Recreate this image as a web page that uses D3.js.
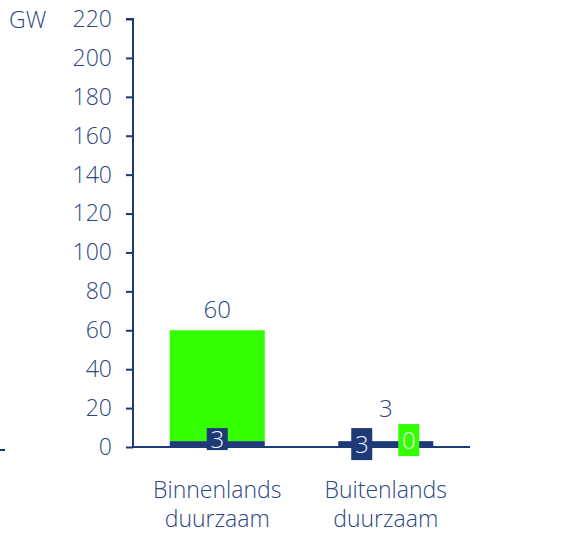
<!DOCTYPE html>
<html>
<head>
<meta charset="utf-8">
<script src="https://cdn.jsdelivr.net/npm/d3@7"></script>
<style>
  html, body { margin: 0; padding: 0; background: #fff; }
  svg text { font-family: "Open Sans", "Noto Sans", sans-serif; font-weight: 300; }
</style>
</head>
<body>
<svg id="chart" width="566" height="534"></svg>
<script>
// Installed capacity per category, GW
const categories = [["Binnenlands", "duurzaam"], ["Buitenlands", "duurzaam"]];
const baseValues = [3, 3];      // dark blue segment
const greenValues = [57, 0];    // green segment
const totals = [60, 3];
const yTicks = [0, 20, 40, 60, 80, 100, 120, 140, 160, 180, 200, 220];
// which segment labels are shown, and horizontal nudge for each
const baseLabelShift = [0, -24];
const greenLabelShow = [false, true];
const greenLabelShift = [0, 23];
const totalLift = [12, 24];

const navy = "#1d3977";
const green = "#33ff00";
const textCol = "#2c4882";

const svg = d3.select("#chart");
const x0 = 133, x1 = 470, yTop = 19, yBase = 447;

const y = d3.scaleLinear().domain([0, 220]).range([yBase, yTop]);
const x = d3.scaleBand().domain(d3.range(categories.length)).range([x0, x1])
  .paddingInner(0.436).paddingOuter(0.218);

// y axis
const yAxis = d3.axisLeft(y).tickValues(yTicks).tickSize(7).tickPadding(14);
const ga = svg.append("g").attr("transform", `translate(${x0},0)`).call(yAxis);
ga.select(".domain").attr("stroke", navy).attr("stroke-width", 2)
  .attr("d", `M-7,${yTop}H0V${yBase}`);
ga.selectAll(".tick line").attr("stroke", navy).attr("stroke-width", 2);
ga.selectAll(".tick text").attr("fill", textCol).attr("font-size", 23)
  .style("font-family", "'Open Sans', sans-serif").style("font-weight", 300);

// unit
svg.append("text").attr("x", 9).attr("y", yTop + 9).attr("fill", textCol)
  .attr("font-size", 23).text("GW");

// small mark at the far left
svg.append("line").attr("x1", 0).attr("x2", 5).attr("y1", 450).attr("y2", 450)
  .attr("stroke", navy).attr("stroke-width", 2);

// bars
const bars = svg.append("g");
categories.forEach((c, i) => {
  const bx = x(i), bw = x.bandwidth();
  bars.append("rect").attr("x", bx).attr("width", bw)
    .attr("y", y(baseValues[i] + greenValues[i])).attr("height", y(baseValues[i]) - y(baseValues[i] + greenValues[i]))
    .attr("fill", green);
  bars.append("rect").attr("x", bx).attr("width", bw)
    .attr("y", y(baseValues[i])).attr("height", yBase - y(baseValues[i]))
    .attr("fill", navy);
});

// baseline
svg.append("line").attr("x1", x0).attr("x2", x1).attr("y1", yBase).attr("y2", yBase)
  .attr("stroke", navy).attr("stroke-width", 2);

// segment labels in boxes
function boxLabel(cx, cy, txt, fill, h) {
  const w = 21;
  svg.append("rect").attr("x", cx - w / 2).attr("y", cy - h / 2).attr("width", w).attr("height", h).attr("fill", fill);
  svg.append("text").attr("x", cx).attr("y", cy).attr("dy", "0.36em").attr("text-anchor", "middle")
    .attr("fill", "#f2f4f8").attr("font-size", 24).text(txt);
}
categories.forEach((c, i) => {
  const cx = x(i) + x.bandwidth() / 2;
  const baseMid = (y(baseValues[i]) + yBase) / 2;
  boxLabel(cx + baseLabelShift[i], baseMid - 5 + (i === 1 ? 5 : 0), baseValues[i], navy, i === 1 ? 32 : 22);
  if (greenLabelShow[i]) {
    boxLabel(cx + greenLabelShift[i], baseMid - 4, greenValues[i], green, 32);
  }
  // total on top
  svg.append("text").attr("x", cx).attr("y", y(totals[i]) - totalLift[i]).attr("text-anchor", "middle")
    .attr("fill", textCol).attr("font-size", 24).text(totals[i]);
  // category label
  const t = svg.append("text").attr("x", cx).attr("y", 498).attr("text-anchor", "middle")
    .attr("fill", textCol).attr("font-size", 23);
  c.forEach((line, k) => t.append("tspan").attr("x", cx).attr("dy", k === 0 ? 0 : 29).text(line));
});
</script>
</body>
</html>
